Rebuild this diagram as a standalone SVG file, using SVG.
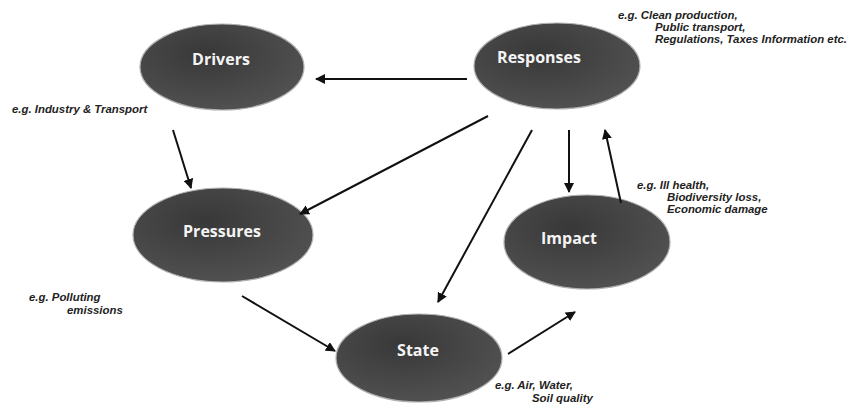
<svg xmlns="http://www.w3.org/2000/svg" width="850" height="407" viewBox="0 0 850 407">
<defs>
<radialGradient id="g" cx="0.4" cy="0.35" r="0.7">
<stop offset="0" stop-color="#383838"/>
<stop offset="1" stop-color="#525252"/>
</radialGradient>
<marker id="ah" viewBox="0 0 10 10" refX="9" refY="5" markerWidth="5" markerHeight="5" orient="auto" markerUnits="strokeWidth">
<path d="M0,0 L10,5 L0,10 z" fill="#111"/>
</marker>
<style>
.node ellipse{fill:url(#g);stroke:#b0b0b0;stroke-width:1.2}
.node text{font-family:"Open Sans","DejaVu Sans",sans-serif;font-weight:bold;font-size:16px;fill:#f4f4f4;text-anchor:middle}
.lbl{font-family:"Liberation Sans",Arial,sans-serif;font-weight:bold;font-style:italic;font-size:11.4px;fill:#222}
.conn line{stroke:#111;stroke-width:2;marker-end:url(#ah)}
</style>
</defs>
<rect width="850" height="407" fill="#fff"/>
<g id="drivers" class="node"><ellipse cx="222" cy="67" rx="82" ry="43"/><text x="221" y="65">Drivers</text></g>
<g id="responses" class="node"><ellipse cx="557" cy="66" rx="83" ry="43"/><text x="539" y="63">Responses</text></g>
<g id="pressures" class="node"><ellipse cx="223" cy="235" rx="90" ry="47"/><text x="222" y="237">Pressures</text></g>
<g id="impact" class="node"><ellipse cx="587" cy="242" rx="83" ry="47"/><text x="569" y="244">Impact</text></g>
<g id="state" class="node"><ellipse cx="419" cy="358" rx="83" ry="44"/><text x="418" y="356">State</text></g>
<g id="connectors" class="conn">
<line x1="467" y1="79" x2="316" y2="79"/>
<line x1="173" y1="130" x2="191" y2="188"/>
<line x1="488" y1="116" x2="300" y2="214"/>
<line x1="532" y1="130" x2="438" y2="302"/>
<line x1="569" y1="130" x2="569" y2="192"/>
<line x1="621" y1="203" x2="605" y2="130"/>
<line x1="242" y1="296" x2="335" y2="351"/>
<line x1="508" y1="354" x2="575" y2="312"/>
</g>
<g id="labels" class="lbl">
<text x="12" y="113">e.g. Industry &amp; Transport</text>
<text x="618" y="19">e.g. Clean production,</text>
<text x="655" y="31">Public transport,</text>
<text x="655" y="43">Regulations, Taxes Information etc.</text>
<text x="637" y="189">e.g. Ill health,</text>
<text x="667" y="201">Biodiversity loss,</text>
<text x="667" y="213">Economic damage</text>
<text x="29" y="301">e.g. Polluting</text>
<text x="67" y="314">emissions</text>
<text x="495" y="389">e.g. Air, Water,</text>
<text x="532" y="402">Soil quality</text>
</g>
</svg>
